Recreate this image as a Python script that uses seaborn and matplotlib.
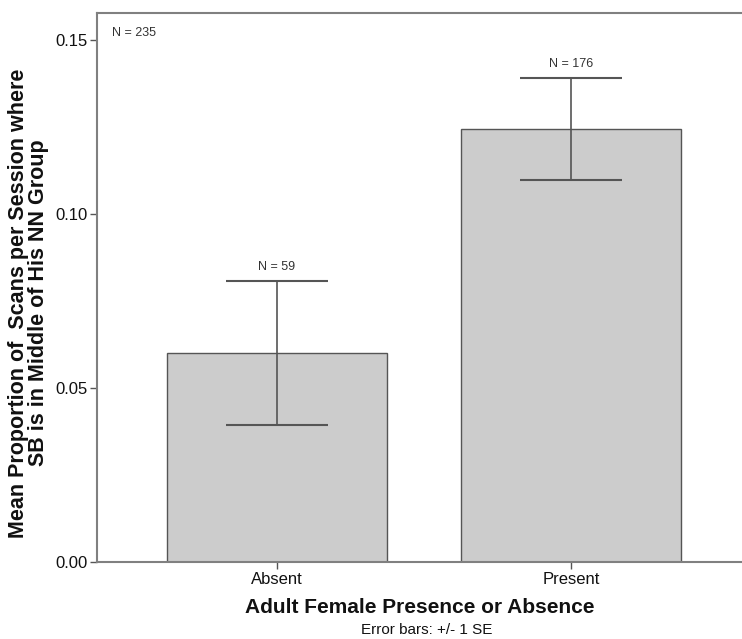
import matplotlib
matplotlib.use("Agg")
import matplotlib.pyplot as plt
import seaborn as sns
import pandas as pd
import numpy as np

categories = ["Absent", "Present"]
means = [0.0600, 0.1245]
se = [0.0207, 0.0146]
ns = [59, 176]
n_total = 235
y_ticks = [0.00, 0.05, 0.10, 0.15]
tick_labels = ["0.00", "0.05", "0.10", "0.15"]

sns.set_theme(style="white")
plt.rcParams["font.family"] = ["Liberation Sans", "DejaVu Sans"]

df = pd.DataFrame({"cat": categories, "mean": means})

fig = plt.figure(figsize=(7.42, 6.39), dpi=100)
ax = fig.add_axes([97/742, 77/639, 645/742, (562-12.5)/639])

sns.barplot(data=df, x="cat", y="mean", order=categories, color="#cccccc",
            saturation=1, width=0.75, edgecolor="#555555", linewidth=1.0,
            errorbar=None, ax=ax)

xpos = np.arange(len(categories))
ax.errorbar(xpos, means, yerr=se, fmt="none", ecolor="#555555", elinewidth=1.2,
            capsize=37, capthick=1.5, zorder=5)

for x, m, s, n in zip(xpos, means, se, ns):
    ax.annotate(f"N = {n}", (x, m + s), xytext=(0, 6), textcoords="offset points",
                ha="center", va="bottom", fontsize=9, color="#333333")

ax.text(15/645, 1 - 20/549.5, f"N = {n_total}", transform=ax.transAxes,
        ha="left", va="center", fontsize=9, color="#333333")

ax.set_xlim(-0.612, 1.582)
ax.set_ylim(0, 0.158)
ax.set_yticks(y_ticks)
ax.set_yticklabels(tick_labels, fontsize=12, color="#111111")
ax.set_xticks(xpos)
ax.set_xticklabels(categories, fontsize=12, color="#111111")
ax.tick_params(axis="both", which="major", length=5, width=1, color="#555555",
               direction="out", left=True, bottom=True, pad=2)

for side in ["left", "bottom", "top"]:
    ax.spines[side].set_visible(True)
    ax.spines[side].set_color("#808080")
    ax.spines[side].set_linewidth(1.5)
ax.spines["right"].set_visible(False)

ax.set_xlabel("Adult Female Presence or Absence", fontsize=15, fontweight="bold",
              color="#111111", labelpad=8)
ax.set_ylabel("Mean Proportion of  Scans per Session where\nSB is in Middle of His NN Group",
              fontsize=15.5, fontweight="bold", color="#111111",
              linespacing=0.95)
ax.yaxis.set_label_coords((49 - 97) / 645, 0.471)
fig.text(427/742, 1 - 630/639, "Error bars: +/- 1 SE", ha="center",
         va="center", fontsize=11, color="#111111")

fig.savefig("out.png", dpi=100)
